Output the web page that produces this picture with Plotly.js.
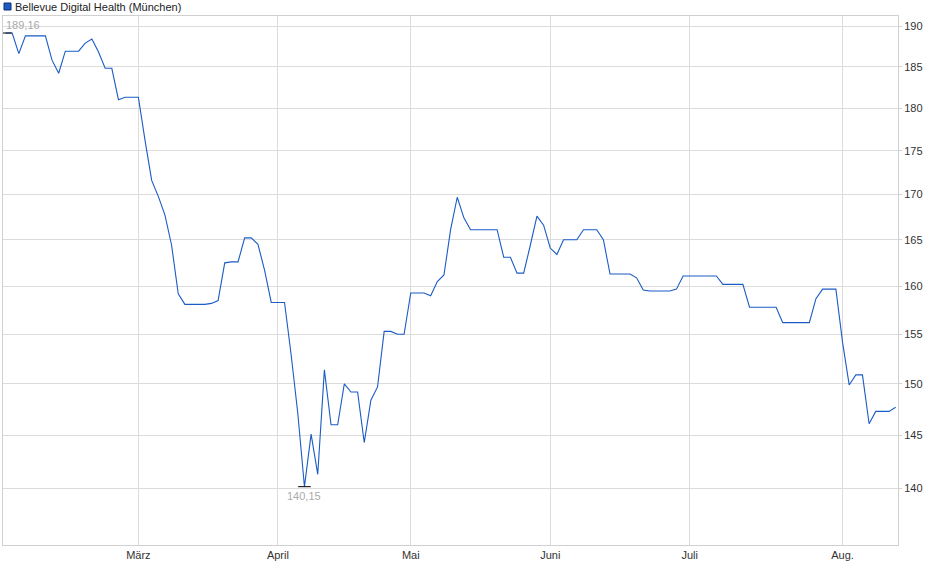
<!DOCTYPE html>
<html>
<head>
<meta charset="utf-8">
<script src="https://cdn.plot.ly/plotly-3.0.1.min.js"></script>
<style>
  html, body { margin: 0; padding: 0; background: #fff; }
  #chart { width: 940px; height: 579px; }
</style>
</head>
<body>
<div id="chart"></div>
<script>
// trading days Feb 3 - Aug 13 2025 (weekends and exchange holidays skipped)
var firstDay = '2025-02-03';
var lastDay = '2025-08-13';
var holidays = ['2025-04-18', '2025-04-21', '2025-05-01'];

// closing prices, one per trading day
var prices = [
  189.16, 189.16, 186.6, 188.8, 188.8, 188.8, 188.8, 185.8, 184.2, 186.9,
  186.9, 186.9, 187.9, 188.4, 186.8, 184.8, 184.8, 181.0, 181.3, 181.3,
  181.3, 176.2, 171.6, 169.8, 167.7, 164.4, 159.2, 158.1, 158.1, 158.1,
  158.1, 158.2, 158.5, 162.5, 162.6, 162.6, 165.2, 165.2, 164.5, 161.7,
  158.3, 158.3, 158.3, 152.9, 147.1, 140.15, 145.1, 141.3, 151.4, 146.0,
  146.0, 150.0, 149.2, 149.2, 144.3, 148.4, 149.7, 155.3, 155.3, 155.0,
  155.0, 159.3, 159.3, 159.3, 159.0, 160.5, 161.2, 166.1, 169.7, 167.4,
  166.1, 166.1, 166.1, 166.1, 166.1, 163.1, 163.1, 161.4, 161.4, 164.4,
  167.6, 166.6, 164.1, 163.4, 165.0, 165.0, 165.0, 166.1, 166.1, 166.1,
  165.0, 161.3, 161.3, 161.3, 161.3, 160.9, 159.6, 159.5, 159.5, 159.5,
  159.5, 159.7, 161.1, 161.1, 161.1, 161.1, 161.1, 161.1, 160.2, 160.2,
  160.2, 160.2, 157.8, 157.8, 157.8, 157.8, 157.8, 156.2, 156.2, 156.2,
  156.2, 156.2, 158.7, 159.7, 159.7, 159.7, 154.2, 149.9, 150.9, 150.9,
  146.1, 147.3, 147.3, 147.3, 147.7
];

var monthTicks = ['2025-03-03', '2025-04-01', '2025-05-02', '2025-06-02', '2025-07-01', '2025-08-01'];
var monthLabels = ['März', 'April', 'Mai', 'Juni', 'Juli', 'Aug.'];
var yTicks = [140, 145, 150, 155, 160, 165, 170, 175, 180, 185, 190];

var seriesName = 'Bellevue Digital Health (München)';
var lineColor = '#1a5bc6';

function pad(n) { return n < 10 ? '0' + n : '' + n; }
var dates = [];
var d = new Date(firstDay + 'T12:00:00Z');
var end = new Date(lastDay + 'T12:00:00Z');
while (d <= end) {
  var s = d.getUTCFullYear() + '-' + pad(d.getUTCMonth() + 1) + '-' + pad(d.getUTCDate());
  var wd = d.getUTCDay();
  if (wd != 0 && wd != 6 && holidays.indexOf(s) < 0) dates.push(s);
  d.setUTCDate(d.getUTCDate() + 1);
}

// high and low of the period
var hi = 0, lo = 0;
for (var i = 0; i < prices.length; i++) {
  if (prices[i] > prices[hi]) hi = i;
  if (prices[i] < prices[lo]) lo = i;
}
function deNum(v) { return v.toFixed(2).replace('.', ','); }

var trace1 = {
  x: dates,
  y: prices,
  type: 'scatter',
  mode: 'lines',
  name: seriesName,
  line: { color: lineColor, width: 1.1 },
  showlegend: false,
  hoverinfo: 'x+y'
};

var trace2 = {
  x: [dates[hi], dates[lo]],
  y: [prices[hi], prices[lo]],
  type: 'scatter',
  mode: 'markers',
  marker: { symbol: 'line-ew', size: 9, line: { color: '#000', width: 1 } },
  showlegend: false,
  hoverinfo: 'skip'
};

var n = dates.length;
var layout = {
  width: 940,
  height: 579,
  margin: { l: 3, r: 42, t: 16, b: 34 },
  paper_bgcolor: '#fff',
  plot_bgcolor: '#fff',
  font: { family: 'Liberation Sans, Arial, sans-serif', size: 11, color: '#333' },
  showlegend: false,
  xaxis: {
    type: 'category',
    range: [-0.38, n - 0.65],
    tickmode: 'array',
    tickvals: monthTicks,
    ticktext: monthLabels,
    showgrid: true,
    gridcolor: '#dcdcdc',
    gridwidth: 1,
    showline: true,
    linecolor: '#d0d0d0',
    mirror: true,
    ticks: '',
    tickfont: { size: 11, color: '#333' },
    zeroline: false,
    fixedrange: true
  },
  yaxis: {
    type: 'log',
    side: 'right',
    range: [Math.log10(134.85), Math.log10(191.3)],
    tickmode: 'array',
    tickvals: yTicks,
    ticktext: yTicks.map(String),
    showgrid: true,
    gridcolor: '#dcdcdc',
    gridwidth: 1,
    showline: true,
    linecolor: '#d0d0d0',
    mirror: true,
    ticks: 'outside',
    ticklen: 3,
    tickcolor: '#d0d0d0',
    tickfont: { size: 11, color: '#333' },
    zeroline: false,
    fixedrange: true
  },
  // legend square, placed in pixels from the top-left corner of the plot
  shapes: [
    {
      type: 'rect', xref: 'paper', yref: 'paper',
      xsizemode: 'pixel', ysizemode: 'pixel', xanchor: 0, yanchor: 1,
      x0: 1, x1: 8, y0: 6, y1: 13,
      fillcolor: lineColor, line: { color: '#0d2f6e', width: 1 }
    }
  ],
  annotations: [
    {
      x: dates[hi], y: Math.log10(prices[hi]), xref: 'x', yref: 'y',
      text: deNum(prices[hi]), showarrow: false,
      xanchor: 'left', yanchor: 'bottom', xshift: -2, yshift: 0,
      font: { size: 11, color: '#aaaaaa' }
    },
    {
      x: dates[lo], y: Math.log10(prices[lo]), xref: 'x', yref: 'y',
      text: deNum(prices[lo]), showarrow: false,
      xanchor: 'center', yanchor: 'top', yshift: -1,
      font: { size: 11, color: '#aaaaaa' }
    },
    {
      x: 0, y: 1, xref: 'paper', yref: 'paper',
      text: seriesName,
      showarrow: false, xanchor: 'left', yanchor: 'bottom', xshift: 10, yshift: 1,
      font: { size: 11, color: '#222' }
    }
  ]
};

Plotly.newPlot('chart', [trace1, trace2], layout, { displayModeBar: false, staticPlot: true });
</script>
</body>
</html>
